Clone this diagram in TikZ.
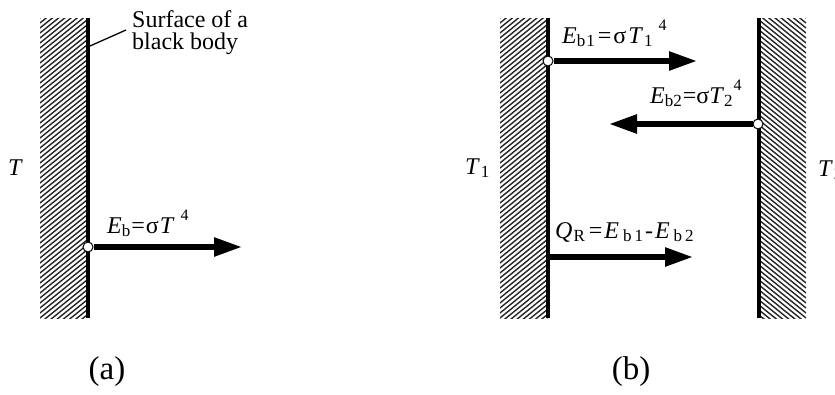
\documentclass[tikz,border=0pt]{standalone}
\usepackage{fontspec}
\setmainfont{Liberation Serif}
\usetikzlibrary{arrows.meta}
\newcommand{\sbs}[1]{\raisebox{-0.3ex}{\fontsize{17pt}{17pt}\selectfont #1}}
\newcommand{\sps}[1]{\raisebox{1.1ex}{\fontsize{16pt}{16pt}\selectfont #1}}
\newcommand{\lblfont}{\fontsize{24pt}{22pt}\selectfont}
\newcommand{\capfont}{\fontsize{33pt}{35pt}\selectfont}
\begin{document}
\begin{tikzpicture}[x=1pt,y=-1pt,
  lbl/.style={inner sep=0pt,font=\lblfont},
  captxt/.style={inner sep=0pt,font=\capfont},
  flux/.style={line width=5.5pt,-{Triangle[length=28pt,width=18pt]}},
  surf/.style={line width=3.5pt},
  hatch/.style={line width=1.4pt,black!85},
  dot/.style={circle,draw,fill=white,line width=1pt,inner sep=0pt,minimum size=10pt}]
\useasboundingbox (0,0) rectangle (835,394);
\clip (0,0) rectangle (835,394);
% ---- walls (hatching) ----
\begin{scope}
  \clip (40,18) rectangle (87,318);
  \foreach \k in {0,5,...,360} {\draw[hatch] (40,18+\k) -- (87,18+\k-38);}
\end{scope}
\begin{scope}
  \clip (500,18) rectangle (548,318);
  \foreach \k in {0,5,...,360} {\draw[hatch] (500,18+\k) -- (548,18+\k-39);}
\end{scope}
\begin{scope}
  \clip (759,18) rectangle (806,318);
  \foreach \k in {0,5,...,360} {\draw[hatch] (759,18+\k-38) -- (806,18+\k);}
\end{scope}
% surfaces
\coordinate (sa1) at (88,18); \coordinate (sa2) at (88,318);
\coordinate (sb1) at (548,18); \coordinate (sb2) at (548,318);
\coordinate (sc1) at (759,18); \coordinate (sc2) at (759,318);
\draw[surf] (sa1) -- (sa2);
\draw[surf] (sb1) -- (sb2);
\draw[surf] (sc1) -- (sc2);
% ---- (a) ----
\node[lbl,anchor=north west,align=left] (surfl) at (132,10) {\lblfont Surface of a\\\lblfont black body};
\coordinate (lead) at (90,46);
\draw[line width=1.3pt] (lead) -- (126,30);
\node[lbl,anchor=base west] (Ta) at (8,175) {\lblfont\textit{T}};
\node[dot] (pa) at (88,247) {};
\coordinate (ea) at (242,247);
\draw[flux] (pa.east) -- (ea);
\node[lbl,anchor=base west] (Ea) at (107,233) {\lblfont\textit{E}\sbs{b}\kern1pt=\kern1ptσ\kern1pt\textit{T}\kern6pt\sps{4}};
\node[captxt] (capa) at (107,372) {\capfont(a)};
% ---- (b) ----
\node[lbl,anchor=base west] (T1) at (465,174) {\lblfont\textit{T}\kern1pt\sbs{1}};
\node[lbl,anchor=base west] (T2) at (818,176) {\lblfont\textit{T}\kern1pt\sbs{2}};
\node[dot] (p1) at (548,61) {};
\coordinate (e1) at (697,61);
\draw[flux] (p1.east) -- (e1);
\node[lbl,anchor=base west] (E1) at (562,43) {\lblfont\textit{E}\sbs{b\kern1pt1}\kern3pt=\kern2ptσ\kern2pt\textit{T}\kern1pt\sbs{1}\kern6pt\sps{4}};
\node[dot] (p2) at (758,124) {};
\coordinate (e2) at (609,124);
\draw[flux] (p2.west) -- (e2);
\node[lbl,anchor=base west] (E2) at (650,103) {\lblfont\textit{E}\sbs{b2}\kern1pt=σ\textit{T}\sbs{2}\kern1pt\sps{4}};
\coordinate (q0) at (549,257);
\coordinate (q1) at (693,257);
\draw[flux] (q0) -- (q1);
\node[lbl,anchor=base west] (Q) at (555,238) {\lblfont\textit{Q}\kern1pt\sbs{R}\kern4pt=\kern2pt\textit{E}\kern4pt\sbs{b\kern3pt1}\kern2pt-\kern2pt\textit{E}\kern4pt\sbs{b\kern3pt2}};
\node[captxt] (capb) at (631,372) {\capfont(b)};
\end{tikzpicture}
\end{document}
